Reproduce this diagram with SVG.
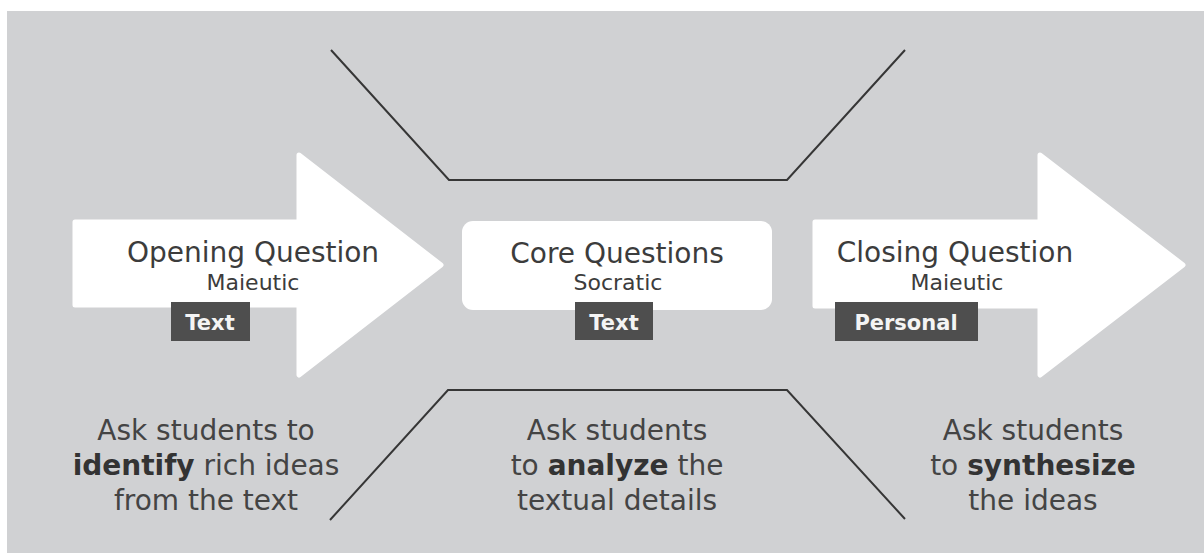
<svg xmlns="http://www.w3.org/2000/svg" width="1204" height="553" viewBox="0 0 1204 553">
<style>
.bg{fill:#d0d1d3}
.arrow{fill:#ffffff;stroke:#ffffff;stroke-width:5;stroke-linejoin:round}
.box{fill:#ffffff}
.tag{fill:#4e4e4e}
.title{font-family:"DejaVu Sans",sans-serif;font-size:28px;fill:#3c3c3c;text-anchor:middle}
.sub{font-family:"DejaVu Sans",sans-serif;font-size:22px;fill:#3c3c3c;text-anchor:middle}
.tagt{font-family:"DejaVu Sans",sans-serif;font-size:21px;font-weight:bold;fill:#f4f4f4;text-anchor:middle}
.para{font-family:"DejaVu Sans",sans-serif;font-size:28px;fill:#444444;text-anchor:middle}
.b{font-weight:bold;fill:#333333}
.line{fill:none;stroke:#363636;stroke-width:2;stroke-linejoin:miter}
</style>
<rect x="0" y="0" width="1204" height="553" fill="#ffffff"/>
<rect class="bg" x="7" y="11" width="1197" height="542"/>
<g id="connectors">
<polyline class="line" points="331,50 449,180 787,180 905,50"/>
<polyline class="line" points="330,520 448,390 787,390 905,519"/>
</g>
<g id="opening">
<polygon class="arrow" points="75,222 299,222 299,155 441,265 299,375 299,305 75,305"/>
<text class="title" x="253" y="262">Opening Question</text>
<text class="sub" x="253" y="290">Maieutic</text>
<rect class="tag" x="171" y="302" width="79" height="39"/>
<text class="tagt" x="210" y="330">Text</text>
</g>
<g id="core">
<rect class="box" x="462" y="221" width="310" height="89" rx="11"/>
<text class="title" x="617" y="263">Core Questions</text>
<text class="sub" x="618" y="290">Socratic</text>
<rect class="tag" x="575" y="302" width="78" height="38"/>
<text class="tagt" x="614" y="330">Text</text>
</g>
<g id="closing">
<polygon class="arrow" points="815,222 1040,222 1040,155 1183,265 1040,375 1040,306 815,306"/>
<text class="title" x="955" y="262">Closing Question</text>
<text class="sub" x="957" y="290">Maieutic</text>
<rect class="tag" x="835" y="302" width="143" height="39"/>
<text class="tagt" x="906" y="330">Personal</text>
</g>
<g id="desc-opening">
<text class="para" x="206" y="440">Ask students to</text>
<text class="para" x="206" y="475"><tspan class="b">identify</tspan> rich ideas</text>
<text class="para" x="206" y="510">from the text</text>
</g>
<g id="desc-core">
<text class="para" x="617" y="440">Ask students</text>
<text class="para" x="617" y="475">to <tspan class="b">analyze</tspan> the</text>
<text class="para" x="617" y="510">textual details</text>
</g>
<g id="desc-closing">
<text class="para" x="1033" y="440">Ask students</text>
<text class="para" x="1033" y="475">to <tspan class="b">synthesize</tspan></text>
<text class="para" x="1033" y="510">the ideas</text>
</g>
</svg>
